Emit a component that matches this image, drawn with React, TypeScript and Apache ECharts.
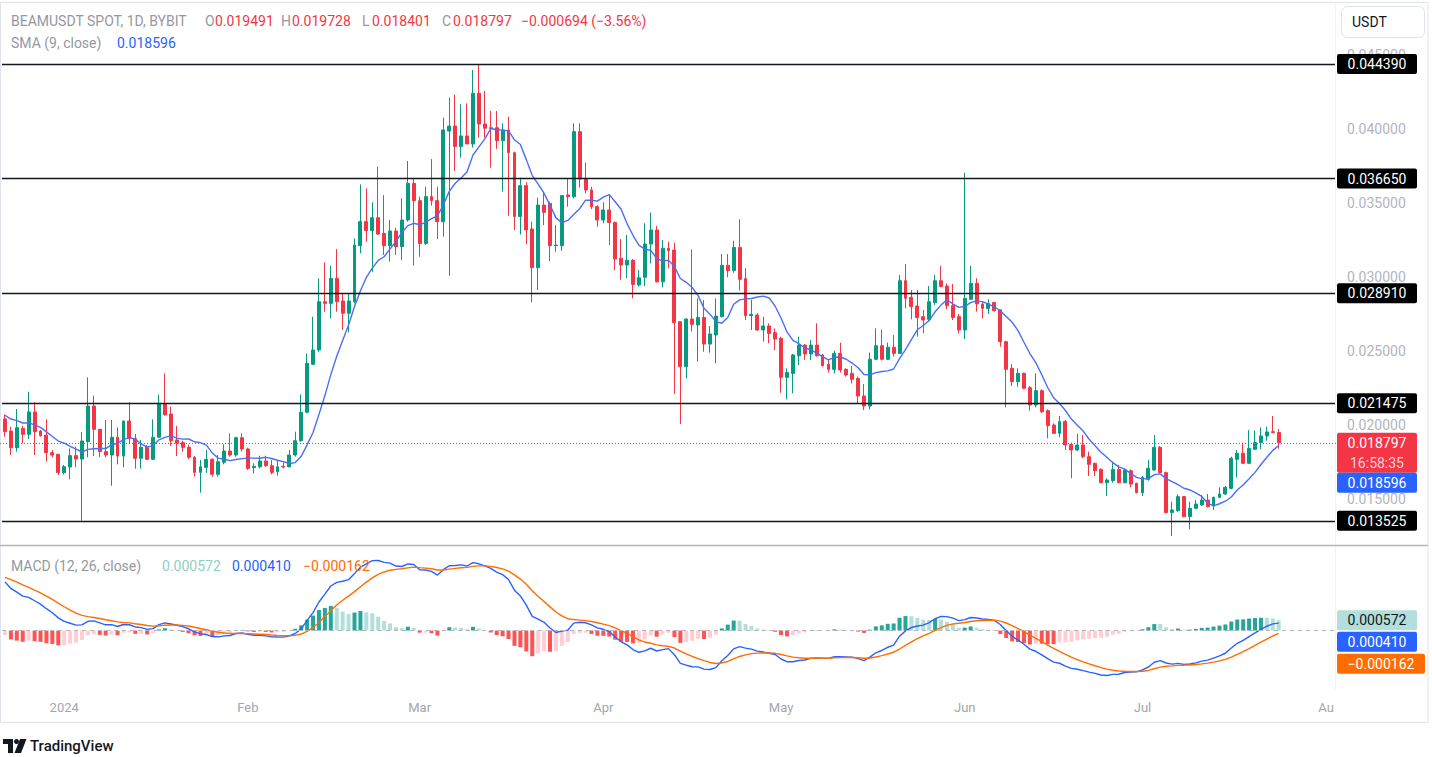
import React, { useEffect, useRef } from "react";
import * as echarts from "echarts";

// ---- data ----
const START_YEAR = 2023;
const START_MONTH = 11; // December (0-based)
const START_DAY = 22;
const FUTURE_SLOTS = 9;

const OPEN = [
  0.02041, 0.01959, 0.01847, 0.01977, 0.01937, 0.02088, 0.01959, 0.01932, 0.01813, 0.01802,
  0.01678, 0.01716, 0.01793, 0.0177, 0.01887, 0.02128, 0.01971, 0.0182, 0.01797, 0.01917,
  0.0179, 0.02027, 0.01908, 0.01775, 0.01849, 0.01768, 0.01917, 0.02146, 0.02074, 0.01899,
  0.01881, 0.01849, 0.01782, 0.0168, 0.01714, 0.01768, 0.01667, 0.01748, 0.01824, 0.01797,
  0.01914, 0.01838, 0.01712, 0.01718, 0.01757, 0.01725, 0.01685, 0.01721, 0.01718, 0.01797,
  0.01894, 0.02086, 0.0241, 0.02507, 0.02833, 0.02822, 0.02991, 0.02838, 0.02755, 0.02833,
  0.03212, 0.03374, 0.03313, 0.03401, 0.03295, 0.03212, 0.03311, 0.03205, 0.03385, 0.03633,
  0.03516, 0.03227, 0.03543, 0.03516, 0.03374, 0.03986, 0.0402, 0.03881, 0.03953, 0.03899,
  0.04241, 0.04034, 0.04009, 0.04009, 0.03921, 0.03993, 0.0384, 0.03408, 0.03617, 0.03324,
  0.03063, 0.03486, 0.03498, 0.03212, 0.03212, 0.03554, 0.03543, 0.03982, 0.03662, 0.03588,
  0.03475, 0.03385, 0.03453, 0.03369, 0.03126, 0.03081, 0.03113, 0.02946, 0.02998, 0.03223,
  0.03318, 0.02968, 0.03194, 0.03182, 0.02698, 0.02394, 0.02716, 0.02676, 0.02727, 0.02547,
  0.02608, 0.02732, 0.03079, 0.03043, 0.032, 0.02989, 0.02739, 0.02743, 0.02642, 0.02669,
  0.02624, 0.02586, 0.02322, 0.02349, 0.02468, 0.0254, 0.0248, 0.0254, 0.02473, 0.0241,
  0.02376, 0.02484, 0.02376, 0.02349, 0.02315, 0.02196, 0.02128, 0.02444, 0.02536, 0.02444,
  0.02525, 0.02484, 0.02975, 0.02863, 0.02804, 0.02732, 0.02714, 0.02827, 0.02975, 0.02939,
  0.02806, 0.02732, 0.02642, 0.02849, 0.02957, 0.02818, 0.02788, 0.02827, 0.02777, 0.02563,
  0.02383, 0.02293, 0.02349, 0.02252, 0.02135, 0.02232, 0.02097, 0.02, 0.01944, 0.02023,
  0.01869, 0.01831, 0.01865, 0.01786, 0.01741, 0.017, 0.0161, 0.01624, 0.017, 0.0161,
  0.01691, 0.01606, 0.01543, 0.01633, 0.01696, 0.01849, 0.01678, 0.01408, 0.01421, 0.01516,
  0.01381, 0.01437, 0.0146, 0.01493, 0.01453, 0.01511, 0.01534, 0.01572, 0.01768, 0.01809,
  0.01741, 0.01836, 0.01881, 0.01926, 0.01955, 0.019491,
];
const HIGH = [
  0.02072, 0.01989, 0.02108, 0.01995, 0.02225, 0.02153, 0.01966, 0.02038, 0.01831, 0.01802,
  0.0173, 0.01842, 0.01854, 0.01953, 0.02322, 0.02198, 0.01971, 0.02034, 0.02034, 0.01984,
  0.0203, 0.02153, 0.01939, 0.01899, 0.01865, 0.02038, 0.02205, 0.02349, 0.02124, 0.01993,
  0.01894, 0.01867, 0.0179, 0.01763, 0.01831, 0.01775, 0.01797, 0.01869, 0.01944, 0.01921,
  0.01944, 0.01847, 0.01741, 0.01793, 0.01793, 0.01763, 0.01757, 0.01748, 0.01831, 0.01955,
  0.02207, 0.02484, 0.02732, 0.02991, 0.03099, 0.03077, 0.03189, 0.0289, 0.0289, 0.03261,
  0.03626, 0.03599, 0.03505, 0.03745, 0.03554, 0.03385, 0.03333, 0.03532, 0.03784, 0.03671,
  0.03543, 0.0361, 0.03797, 0.0361, 0.04077, 0.04212, 0.04234, 0.04167, 0.04173, 0.04399,
  0.04439, 0.04257, 0.04122, 0.04122, 0.04038, 0.04083, 0.03847, 0.03671, 0.0364, 0.03374,
  0.03536, 0.03577, 0.03509, 0.03351, 0.03554, 0.03667, 0.04038, 0.04038, 0.03775, 0.0361,
  0.03486, 0.03505, 0.03559, 0.03374, 0.03257, 0.03284, 0.03122, 0.03047, 0.03363, 0.03435,
  0.03345, 0.0325, 0.03239, 0.03232, 0.02698, 0.02721, 0.03187, 0.02856, 0.02845, 0.02669,
  0.02856, 0.03155, 0.03155, 0.03245, 0.0339, 0.03059, 0.02845, 0.02755, 0.02732, 0.02687,
  0.02653, 0.02597, 0.02383, 0.0248, 0.02597, 0.02547, 0.02574, 0.02687, 0.0248, 0.02439,
  0.02502, 0.02556, 0.02383, 0.02399, 0.02327, 0.02277, 0.02489, 0.02653, 0.02646, 0.02556,
  0.02608, 0.03014, 0.03088, 0.02912, 0.02912, 0.02777, 0.02939, 0.03014, 0.03074, 0.02957,
  0.02953, 0.0275, 0.03705, 0.03074, 0.02991, 0.02833, 0.02849, 0.02833, 0.02782, 0.0257,
  0.02412, 0.02383, 0.02354, 0.02264, 0.02349, 0.02241, 0.02106, 0.02011, 0.02061, 0.02034,
  0.01881, 0.01939, 0.01932, 0.0182, 0.01745, 0.01707, 0.0164, 0.01752, 0.0173, 0.01707,
  0.017, 0.0161, 0.01655, 0.01764, 0.01932, 0.01858, 0.01685, 0.01482, 0.01532, 0.0152,
  0.01482, 0.01493, 0.01527, 0.01534, 0.01516, 0.01579, 0.01588, 0.01786, 0.01831, 0.01881,
  0.01966, 0.01962, 0.01984, 0.01989, 0.02061, 0.019728,
];
const LOW = [
  0.01921, 0.01797, 0.0182, 0.01876, 0.01905, 0.01797, 0.01921, 0.01752, 0.01782, 0.01662,
  0.01666, 0.01633, 0.01714, 0.01353, 0.01782, 0.0179, 0.01782, 0.01782, 0.0159, 0.01734,
  0.01714, 0.01876, 0.01705, 0.01705, 0.01765, 0.01765, 0.01915, 0.02065, 0.01858, 0.0179,
  0.0182, 0.01768, 0.01651, 0.01543, 0.01676, 0.01651, 0.01651, 0.01734, 0.01786, 0.01786,
  0.0182, 0.01696, 0.01673, 0.01707, 0.01718, 0.01667, 0.01658, 0.01707, 0.01712, 0.01786,
  0.01887, 0.02079, 0.02405, 0.02495, 0.02766, 0.02721, 0.02766, 0.02642, 0.02626, 0.02822,
  0.0316, 0.03239, 0.03036, 0.03284, 0.03149, 0.03104, 0.03149, 0.03115, 0.03374, 0.03077,
  0.03137, 0.03216, 0.03482, 0.03257, 0.03273, 0.03009, 0.03716, 0.03806, 0.03899, 0.03874,
  0.03941, 0.03941, 0.03739, 0.03865, 0.03577, 0.03414, 0.03318, 0.03288, 0.03221, 0.02829,
  0.02912, 0.03351, 0.03108, 0.03171, 0.03176, 0.03475, 0.03532, 0.03604, 0.03565, 0.03459,
  0.0334, 0.03363, 0.03216, 0.03047, 0.02982, 0.02993, 0.02856, 0.02935, 0.02939, 0.03092,
  0.02962, 0.0293, 0.03059, 0.02209, 0.02007, 0.02315, 0.02631, 0.02428, 0.02495, 0.02489,
  0.02417, 0.02727, 0.02998, 0.03029, 0.02908, 0.02709, 0.02642, 0.02637, 0.02563, 0.02552,
  0.02507, 0.02218, 0.02173, 0.02214, 0.02405, 0.02439, 0.02439, 0.02462, 0.02394, 0.02354,
  0.02349, 0.02354, 0.02327, 0.0228, 0.02146, 0.02101, 0.02106, 0.02439, 0.02435, 0.02439,
  0.02462, 0.0248, 0.02788, 0.02714, 0.02597, 0.02619, 0.02698, 0.02811, 0.0293, 0.02782,
  0.02709, 0.02619, 0.02581, 0.02845, 0.02766, 0.02721, 0.0275, 0.02766, 0.02529, 0.02119,
  0.02264, 0.02259, 0.02241, 0.02097, 0.02119, 0.02079, 0.0191, 0.01939, 0.01917, 0.01831,
  0.0164, 0.01824, 0.01775, 0.01655, 0.01655, 0.01606, 0.0152, 0.0161, 0.01606, 0.01606,
  0.01579, 0.01538, 0.0152, 0.01624, 0.01691, 0.01673, 0.01403, 0.0125, 0.01414, 0.01376,
  0.01295, 0.0143, 0.01453, 0.01444, 0.01426, 0.01505, 0.01527, 0.01565, 0.01646, 0.01736,
  0.01736, 0.01831, 0.01836, 0.01894, 0.01944, 0.018401,
];
const CLOSE = [
  0.01955, 0.01847, 0.01982, 0.01937, 0.02088, 0.01955, 0.01928, 0.01813, 0.01797, 0.01678,
  0.01718, 0.01793, 0.0177, 0.01892, 0.02128, 0.01971, 0.0182, 0.01797, 0.01917, 0.0179,
  0.02027, 0.01908, 0.01775, 0.01849, 0.01768, 0.01917, 0.02146, 0.02068, 0.01894, 0.01876,
  0.01849, 0.01782, 0.0168, 0.01718, 0.01768, 0.01667, 0.01752, 0.01824, 0.01797, 0.01914,
  0.01838, 0.01707, 0.01721, 0.01757, 0.01725, 0.0168, 0.01718, 0.01716, 0.01797, 0.01894,
  0.02086, 0.02417, 0.02507, 0.02833, 0.02822, 0.02991, 0.02833, 0.02755, 0.02838, 0.03216,
  0.03374, 0.03313, 0.03401, 0.0329, 0.03212, 0.03311, 0.03205, 0.03385, 0.03633, 0.03516,
  0.03227, 0.03543, 0.03516, 0.03374, 0.03993, 0.0402, 0.03881, 0.03953, 0.03899, 0.04241,
  0.04034, 0.04005, 0.04002, 0.03921, 0.03993, 0.0384, 0.03408, 0.03617, 0.03318, 0.03063,
  0.03486, 0.03437, 0.03212, 0.03216, 0.0355, 0.03543, 0.03982, 0.03662, 0.03588, 0.03475,
  0.03385, 0.03453, 0.03369, 0.03122, 0.03081, 0.03113, 0.0295, 0.02995, 0.03223, 0.03318,
  0.02968, 0.03194, 0.03178, 0.02691, 0.02394, 0.02716, 0.0268, 0.02727, 0.02547, 0.02615,
  0.02736, 0.03079, 0.03043, 0.032, 0.02984, 0.02739, 0.02748, 0.02642, 0.02669, 0.02619,
  0.02581, 0.02322, 0.02354, 0.02473, 0.0254, 0.0248, 0.0254, 0.02468, 0.02401, 0.02376,
  0.02484, 0.02372, 0.02338, 0.02309, 0.02196, 0.02128, 0.02444, 0.02536, 0.02444, 0.02525,
  0.02484, 0.02975, 0.02856, 0.028, 0.02725, 0.02709, 0.02833, 0.02975, 0.02935, 0.02806,
  0.02727, 0.02642, 0.02856, 0.02957, 0.02818, 0.02788, 0.02822, 0.02773, 0.02563, 0.02376,
  0.02293, 0.02349, 0.02248, 0.02135, 0.02232, 0.0209, 0.01995, 0.01944, 0.02023, 0.01865,
  0.01831, 0.01865, 0.01786, 0.01734, 0.01691, 0.0161, 0.01628, 0.017, 0.0161, 0.01696,
  0.01601, 0.01543, 0.01646, 0.01707, 0.01849, 0.01678, 0.01408, 0.01426, 0.01516, 0.01381,
  0.01437, 0.01466, 0.01493, 0.01448, 0.01511, 0.01534, 0.01579, 0.01775, 0.01809, 0.01741,
  0.01842, 0.01881, 0.01926, 0.01953, 0.01949, 0.018797,
];

const LEVELS = [0.04439, 0.03665, 0.02891, 0.021475, 0.013525];
const PRICE_TICKS = [0.015, 0.02, 0.025, 0.03, 0.035, 0.04, 0.045];
const MONTH_NAMES = ["2024", "Feb", "Mar", "Apr", "May", "Jun", "Jul", "Au", "Sep", "Oct", "Nov", "Dec"];
const PRICE_MIN = 0.011892;
const PRICE_MAX = 0.048514;

const LAST_PRICE = 0.018797;
const SMA_LAST = 0.018596;
const HIST_LAST = 0.000572;
const MACD_LAST = 0.00041;
const SIGNAL_LAST = -0.000162;
const COUNTDOWN = "16:58:35";

// indicator warm-up values (state before the first visible bar)
const SMA_SEED = 0.0208;
const EMA12_SEED = 0.0207;
const EMA26_SEED = 0.0177;
const SIGNAL_SEED = 0.003;

const UP = "#089981";
const DOWN = "#F23645";
const FONT = "Roboto, 'Noto Sans', Arial, sans-serif";

function smaSeries(vals: number[], n: number, seed: number) {
  return vals.map((_, i) => {
    let s = 0;
    for (let k = 0; k < n; k++) {
      const j = i - k;
      s += j >= 0 ? vals[j] : seed;
    }
    return s / n;
  });
}
function emaSeries(vals: number[], n: number, seed: number) {
  const a = 2 / (n + 1);
  let e = seed;
  return vals.map((v) => (e = e + a * (v - e)));
}

export default function App() {
  const ref = useRef<HTMLDivElement>(null);
  useEffect(() => {
    const el = ref.current!;
    const chart = echarts.init(el, null, { renderer: "svg" });

    const n = OPEN.length;
    const dates: string[] = [];
    for (let i = 0; i < n + FUTURE_SLOTS; i++) {
      const dt = new Date(Date.UTC(START_YEAR, START_MONTH, START_DAY + i));
      dates.push(dt.toISOString().slice(0, 10));
    }
    const candles = OPEN.map((o, i) => [o, CLOSE[i], LOW[i], HIGH[i]]);
    const sma = smaSeries(CLOSE, 9, SMA_SEED);
    const e12 = emaSeries(CLOSE, 12, EMA12_SEED);
    const e26 = emaSeries(CLOSE, 26, EMA26_SEED);
    const macd = e12.map((v, i) => v - e26[i]);
    const signal = emaSeries(macd, 9, SIGNAL_SEED);
    const hist = macd.map((v, i) => v - signal[i]);
    const histData = hist.map((h, i) => {
      const prev = i > 0 ? hist[i - 1] : h;
      let color;
      if (h >= 0) color = h > prev ? "#26A69A" : "#B2DFDB";
      else color = h < prev ? "#FF5252" : "#FFCDD2";
      return { value: h, itemStyle: { color } };
    });

    // MACD pane scale: extremes at fixed margins of the pane
    let maxV = -Infinity, minV = Infinity;
    for (let i = 0; i < n; i++) {
      maxV = Math.max(maxV, macd[i], signal[i], hist[i]);
      minV = Math.min(minV, macd[i], signal[i], hist[i]);
    }
    const paneTop = 546, paneBot = 690, yMaxPix = 560.5, yMinPix = 675.5;
    const s = (yMinPix - yMaxPix) / (maxV - minV);
    const macdAxisMax = maxV + (yMaxPix - paneTop) / s;
    const macdAxisMin = minV - (paneBot - yMinPix) / s;

    const labelFmt = (v: string) => {
      const dt = new Date(v + "T00:00:00Z");
      if (dt.getUTCDate() !== 1) return "";
      return MONTH_NAMES[dt.getUTCMonth()];
    };

    const gridLeft = 2, gridWidth = 1333;
    const option: any = {
      animation: false,
      backgroundColor: "#ffffff",
      grid: [
        { left: gridLeft, top: 3, width: gridWidth, height: 542 },
        { left: gridLeft, top: paneTop, width: gridWidth, height: paneBot - paneTop },
      ],
      xAxis: [
        {
          type: "category", gridIndex: 0, data: dates, boundaryGap: true,
          axisLine: { show: false }, axisTick: { show: false }, axisLabel: { show: false }, splitLine: { show: false },
        },
        {
          type: "category", gridIndex: 1, data: dates, boundaryGap: true,
          axisLine: { show: false }, axisTick: { show: false }, splitLine: { show: false },
          axisLabel: {
            interval: (_i: number, v: string) => v.endsWith("-01"),
            formatter: labelFmt,
            color: "#A3A6AF", fontSize: 13, fontFamily: FONT, margin: 11,
          },
        },
      ],
      yAxis: [
        {
          type: "value", gridIndex: 0, position: "right", min: PRICE_MIN, max: PRICE_MAX,
          axisLine: { show: false }, axisTick: { show: false }, splitLine: { show: false },
          axisLabel: {
            customValues: PRICE_TICKS,
            formatter: (v: number) => v.toFixed(6),
            color: "#B2B5BE", fontSize: 14, fontFamily: FONT, margin: 12,
          },
        },
        {
          type: "value", gridIndex: 1, position: "right", min: macdAxisMin, max: macdAxisMax,
          axisLine: { show: false }, axisTick: { show: false }, splitLine: { show: false }, axisLabel: { show: false },
        },
      ],
      series: [
        {
          type: "candlestick", xAxisIndex: 0, yAxisIndex: 0, data: candles, barWidth: 3.4,
          itemStyle: { color: UP, color0: DOWN, borderColor: UP, borderColor0: DOWN, borderWidth: 1 },
          markLine: {
            silent: true, symbol: ["none", "none"], label: { show: false }, precision: 8,
            lineStyle: { color: "#131722", width: 1.3, type: "solid" },
            data: LEVELS.map((v) => ({ yAxis: v })),
          },
        },
        {
          type: "line", xAxisIndex: 0, yAxisIndex: 0, data: sma, showSymbol: false, smooth: false,
          lineStyle: { color: "#4a6ff6", width: 1.4 }, silent: true,
        },
        {
          type: "bar", xAxisIndex: 1, yAxisIndex: 1, data: histData, barWidth: 4, silent: true,
          markLine: {
            silent: true, symbol: ["none", "none"], label: { show: false }, precision: 8,
            lineStyle: { color: "#B2B5BE", width: 1, type: [4, 4] },
            data: [{ yAxis: 0 }],
          },
        },
        {
          type: "line", xAxisIndex: 1, yAxisIndex: 1, data: macd, showSymbol: false,
          lineStyle: { color: "#2962FF", width: 1.4 }, silent: true,
        },
        {
          type: "line", xAxisIndex: 1, yAxisIndex: 1, data: signal, showSymbol: false,
          lineStyle: { color: "#FF6D00", width: 1.4 }, silent: true,
        },
      ],
    };
    chart.setOption(option);

    const py = (v: number) => chart.convertToPixel({ yAxisIndex: 0 } as any, v) as number;
    const my = (v: number) => chart.convertToPixel({ yAxisIndex: 1 } as any, v) as number;

    const txt = (x: number, y: number, text: string, fill: string, size = 14, extra: any = {}) => ({
      type: "text", x, y, z: 101,
      style: {
        text, fill, fontSize: size, fontFamily: FONT,
        verticalAlign: "middle", textVerticalAlign: "middle", ...extra,
      },
    });
    const box = (top: number, h: number, w: number, fill: string) => ({
      type: "rect", z: 100, shape: { x: 1337, y: top, width: w, height: h, r: 2 }, style: { fill },
    });

    const g: any[] = [];
    // frame + separators
    g.push({ type: "rect", z: 1, shape: { x: 0.5, y: 2.5, width: 1427.5, height: 720 }, style: { fill: "none", stroke: "#E0E3EB", lineWidth: 1 } });
    g.push({ type: "line", z: 2, shape: { x1: 1335.5, y1: 3, x2: 1335.5, y2: 690 }, style: { stroke: "#F0F3FA", lineWidth: 1 } });
    g.push({ type: "line", z: 2, shape: { x1: 0, y1: 545.5, x2: 1428, y2: 545.5 }, style: { stroke: "#B2B5BE", lineWidth: 1.6 } });

    // current price dotted line
    const yl = py(LAST_PRICE);
    g.push({
      type: "line", z: 3, silent: true,
      shape: { x1: 0, y1: Math.round(yl) + 0.5, x2: 1337, y2: Math.round(yl) + 0.5 },
      style: { stroke: "#F23645", lineWidth: 1, lineDash: [1, 2] },
    });

    // legend
    const gray = "#9598A1";
    g.push(txt(11, 21, "BEAMUSDT SPOT, 1D, BYBIT", gray));
    g.push(txt(205, 21, "O", gray));
    g.push(txt(215, 21, "0.019491", DOWN));
    g.push(txt(281, 21, "H", gray));
    g.push(txt(292, 21, "0.019728", DOWN));
    g.push(txt(362, 21, "L", gray));
    g.push(txt(372, 21, "0.018401", DOWN));
    g.push(txt(442, 21, "C", gray));
    g.push(txt(453, 21, "0.018797", DOWN));
    g.push(txt(521, 21, "\u22120.000694 (\u22123.56%)", DOWN));
    g.push(txt(11, 43, "SMA (9, close)", gray));
    g.push(txt(117, 43, SMA_LAST.toFixed(6), "#2962FF"));
    g.push(txt(11, 566, "MACD (12, 26, close)", gray));
    g.push(txt(162, 566, HIST_LAST.toFixed(6), "#8ED0C7"));
    g.push(txt(232, 566, MACD_LAST.toFixed(6), "#2962FF"));
    g.push(txt(303, 566, "\u2212" + Math.abs(SIGNAL_LAST).toFixed(6), "#FF6D00"));

    // USDT button
    g.push({ type: "rect", z: 100, shape: { x: 1341.5, y: 6.5, width: 83, height: 31, r: 6 }, style: { fill: "#ffffff", stroke: "#E0E3EB", lineWidth: 1 } });
    g.push(txt(1352, 22, "USDT", "#131722", 14));

    // level labels
    LEVELS.forEach((v) => {
      const y = py(v);
      g.push(box(y - 10, 20, 80, "#000000"));
      g.push(txt(1377, y, v.toFixed(6), "#ffffff", 14, { align: "center", textAlign: "center" }));
    });
    // last price + countdown
    g.push(box(yl - 10, 40, 80, DOWN));
    g.push(txt(1377, yl, LAST_PRICE.toFixed(6), "#ffffff", 14, { align: "center", textAlign: "center" }));
    g.push(txt(1377, yl + 20, COUNTDOWN, "#FBD2D6", 14, { align: "center", textAlign: "center" }));
    // SMA label
    const ysTop = yl + 30;
    g.push(box(ysTop, 20, 80, "#2962FF"));
    g.push(txt(1377, ysTop + 10, SMA_LAST.toFixed(6), "#ffffff", 14, { align: "center", textAlign: "center" }));

    // MACD labels (stacked)
    const yh = my(HIST_LAST);
    g.push(box(yh - 10, 20, 80, "#B2DFDB"));
    g.push(txt(1377, yh, HIST_LAST.toFixed(6), "#131722", 14, { align: "center", textAlign: "center" }));
    const ymTop = Math.max(my(MACD_LAST) - 10, yh + 11.5);
    g.push(box(ymTop, 20, 80, "#2962FF"));
    g.push(txt(1377, ymTop + 10, MACD_LAST.toFixed(6), "#ffffff", 14, { align: "center", textAlign: "center" }));
    const ysgTop = Math.max(my(SIGNAL_LAST) - 10, ymTop + 22);
    g.push(box(ysgTop, 20, 88, "#FF6D00"));
    g.push(txt(1381, ysgTop + 10, "\u2212" + Math.abs(SIGNAL_LAST).toFixed(6), "#ffffff", 14, { align: "center", textAlign: "center" }));

    // TradingView logo
    const ink = "#131722";
    g.push({ type: "polygon", z: 100, shape: { points: [[3, 739], [13, 739], [13, 753], [8, 753], [8, 744], [3, 744]] }, style: { fill: ink } });
    g.push({ type: "circle", z: 100, shape: { cx: 16.5, cy: 741.5, r: 2.5 }, style: { fill: ink } });
    g.push({ type: "polygon", z: 100, shape: { points: [[20, 739], [26.5, 739], [21, 753], [14.5, 753]] }, style: { fill: ink } });
    g.push(txt(30, 746, "TradingView", ink, 15, { fontWeight: 500 }));

    chart.setOption({ graphic: { elements: g } });

    return () => chart.dispose();
  }, []);
  return (
    <div
      ref={ref}
      style={{ position: "fixed", left: 0, top: 0, width: 1432, height: 757, background: "#ffffff" }}
    />
  );
}
